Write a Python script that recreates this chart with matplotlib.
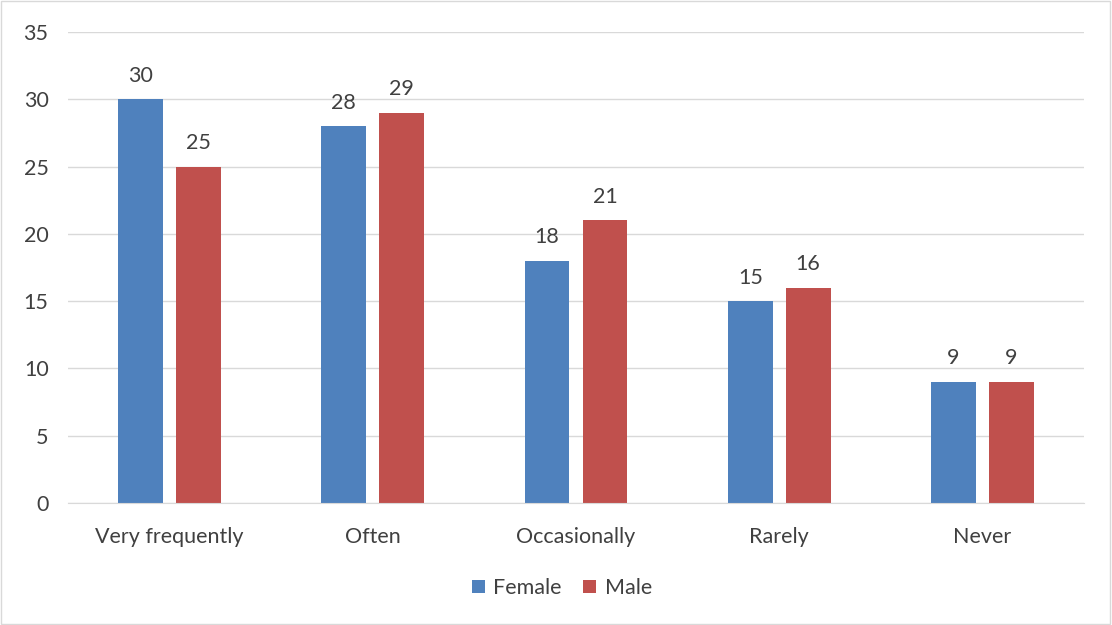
import numpy as np
import matplotlib.pyplot as plt
from matplotlib.patches import Rectangle

categories = ['Very frequently', 'Often', 'Occasionally', 'Rarely', 'Never']
female = [30, 28, 18, 15, 9]
male = [25, 29, 21, 16, 9]
yticks = [0, 5, 10, 15, 20, 25, 30, 35]

plt.rcParams['font.family'] = ['Lato', 'DejaVu Sans']
fs = 15.5

fig = plt.figure(figsize=(11.12, 6.25), dpi=100)
ax = fig.add_axes([68 / 1112, 1 - 503 / 625, 1016 / 1112, 471 / 625])

x = np.arange(len(categories))
w = 0.221
gap = 0.064
b1 = ax.bar(x - (w + gap) / 2, female, w, color='#4F81BD', label='Female')
b2 = ax.bar(x + (w + gap) / 2, male, w, color='#C0504D', label='Male')

for bars, vals in ((b1, female), (b2, male)):
    for r, v in zip(bars, vals):
        ax.text(r.get_x() + r.get_width() / 2, v + 1.0, str(v), ha='center', va='bottom',
                fontsize=fs, color='#404040')

ax.set_xlim(-0.5, len(categories) - 0.5)
ax.set_ylim(0, 35)
ax.set_yticks(yticks)
ax.set_xticks(x)
ax.set_xticklabels(categories)
ax.yaxis.grid(True, color='#D9D9D9', lw=1)
ax.set_axisbelow(True)
for s in ('top', 'right', 'left'):
    ax.spines[s].set_visible(False)
ax.spines['bottom'].set_color('#D9D9D9')
ax.tick_params(axis='both', length=0, labelsize=fs, labelcolor='#404040')
ax.tick_params(axis='y', pad=14)
ax.tick_params(axis='x', pad=17)

fig.legend(handles=[b1, b2], loc='center', bbox_to_anchor=(562 / 1112, 1 - 588 / 625),
           ncol=2, frameon=False, fontsize=fs, handlelength=0.6, handleheight=0.6,
           handletextpad=0.4, columnspacing=1.0, labelcolor='#404040')

fig.patches.append(Rectangle((0.001, 0.001), 0.997, 0.997, transform=fig.transFigure,
                             fill=False, edgecolor='#D9D9D9', lw=1))

fig.savefig('out.png', dpi=100)
